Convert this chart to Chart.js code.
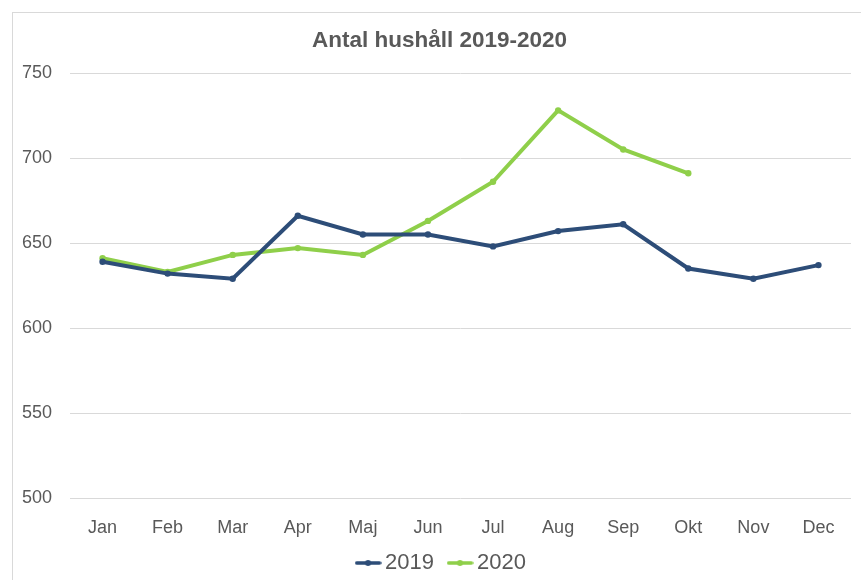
<!DOCTYPE html>
<html>
<head>
<meta charset="utf-8">
<script src="https://cdn.jsdelivr.net/npm/chart.js@4/dist/chart.umd.min.js"></script>
<style>
  html, body { margin: 0; padding: 0; background: #fff; overflow: hidden; }
  #wrap { position: relative; width: 861px; height: 580px; }
  #frame { position: absolute; left: 12px; top: 12px; width: 900px; height: 700px; border: 1px solid #D9D9D9; pointer-events: none; }
  canvas { position: absolute; left: 0; top: 0; }
</style>
</head>
<body>
<div id="wrap">
  <div id="frame"></div>
  <canvas id="c" width="861" height="580"></canvas>
</div>
<script>
const months = ["Jan", "Feb", "Mar", "Apr", "Maj", "Jun", "Jul", "Aug", "Sep", "Okt", "Nov", "Dec"];
const values2019 = [639, 632, 629, 666, 655, 655, 648, 657, 661, 635, 629, 637];
const values2020 = [641, 633, 643, 647, 643, 663, 686, 728, 705, 691, null, null];
const seriesNames = ["2019", "2020"];
const yTicks = [500, 550, 600, 650, 700, 750];
const titleText = "Antal hushåll 2019-2020";

const colors = ["#2D4D78", "#8FCF4A"];
const textColor = "#595959";
const fontFamily = '"Liberation Sans", Arial, sans-serif';

function legendMarker(color) {
  const cv = document.createElement("canvas");
  cv.width = 27; cv.height = 8;
  const g = cv.getContext("2d");
  g.strokeStyle = color; g.lineWidth = 3.5; g.lineCap = "round";
  g.beginPath(); g.moveTo(2, 4); g.lineTo(25, 4); g.stroke();
  g.fillStyle = color;
  g.beginPath(); g.arc(13.5, 4, 3, 0, Math.PI * 2); g.fill();
  return cv;
}
const markers = colors.map(legendMarker);

const shiftPlugin = {
  id: "shiftBlocks",
  afterLayout(chart) {
    if (chart.titleBlock) { chart.titleBlock.left = 28; }
    if (chart.legend) {
      chart.legend.left = 37;
      chart.legend.top += 4; chart.legend.bottom += 4;
    }
    const x = chart.scales.x;
    x.bottom = x.top + 42;
  }
};

new Chart(document.getElementById("c"), {
  type: "line",
  data: {
    labels: months,
    datasets: [
      { label: seriesNames[0], data: values2019, borderColor: colors[0], backgroundColor: colors[0],
        borderWidth: 4, pointRadius: 3.2, pointBackgroundColor: colors[0], pointBorderWidth: 0, tension: 0 },
      { label: seriesNames[1], data: values2020, borderColor: colors[1], backgroundColor: colors[1],
        borderWidth: 4, pointRadius: 3.2, pointBackgroundColor: colors[1], pointBorderWidth: 0, tension: 0 }
    ]
  },
  plugins: [shiftPlugin],
  options: {
    responsive: false,
    animation: false,
    devicePixelRatio: 1,
    layout: { padding: { left: 0, right: 10, top: 0, bottom: 0 } },
    plugins: {
      title: {
        display: true, text: titleText, color: textColor,
        font: { family: fontFamily, size: 22.5, weight: "bold" },
        padding: { top: 27, bottom: 19 }
      },
      legend: {
        position: "bottom",
        labels: {
          color: textColor,
          font: { family: fontFamily, size: 22 },
          usePointStyle: true,
          pointStyleWidth: 12,
          padding: 20,
          generateLabels: function (chart) {
            const items = Chart.defaults.plugins.legend.labels.generateLabels(chart);
            items.forEach((it, i) => { it.pointStyle = markers[i]; });
            return items;
          }
        }
      },
      tooltip: { enabled: false }
    },
    scales: {
      x: {
        offset: true,
        grid: { display: false },
        border: { display: false },
        ticks: { color: textColor, font: { family: fontFamily, size: 18 }, padding: 11, maxRotation: 0 },
        afterFit: function (s) { s.height = 30; }
      },
      y: {
        min: yTicks[0], max: yTicks[yTicks.length - 1],
        afterBuildTicks: function (s) { s.ticks = yTicks.map(v => ({ value: v })); },
        grid: { color: "#D9D9D9", lineWidth: 1, drawTicks: false },
        border: { display: false },
        ticks: { color: textColor, font: { family: fontFamily, size: 18 }, padding: 18 },
        afterFit: function (s) { s.width = 70; }
      }
    }
  }
});
</script>
</body>
</html>
